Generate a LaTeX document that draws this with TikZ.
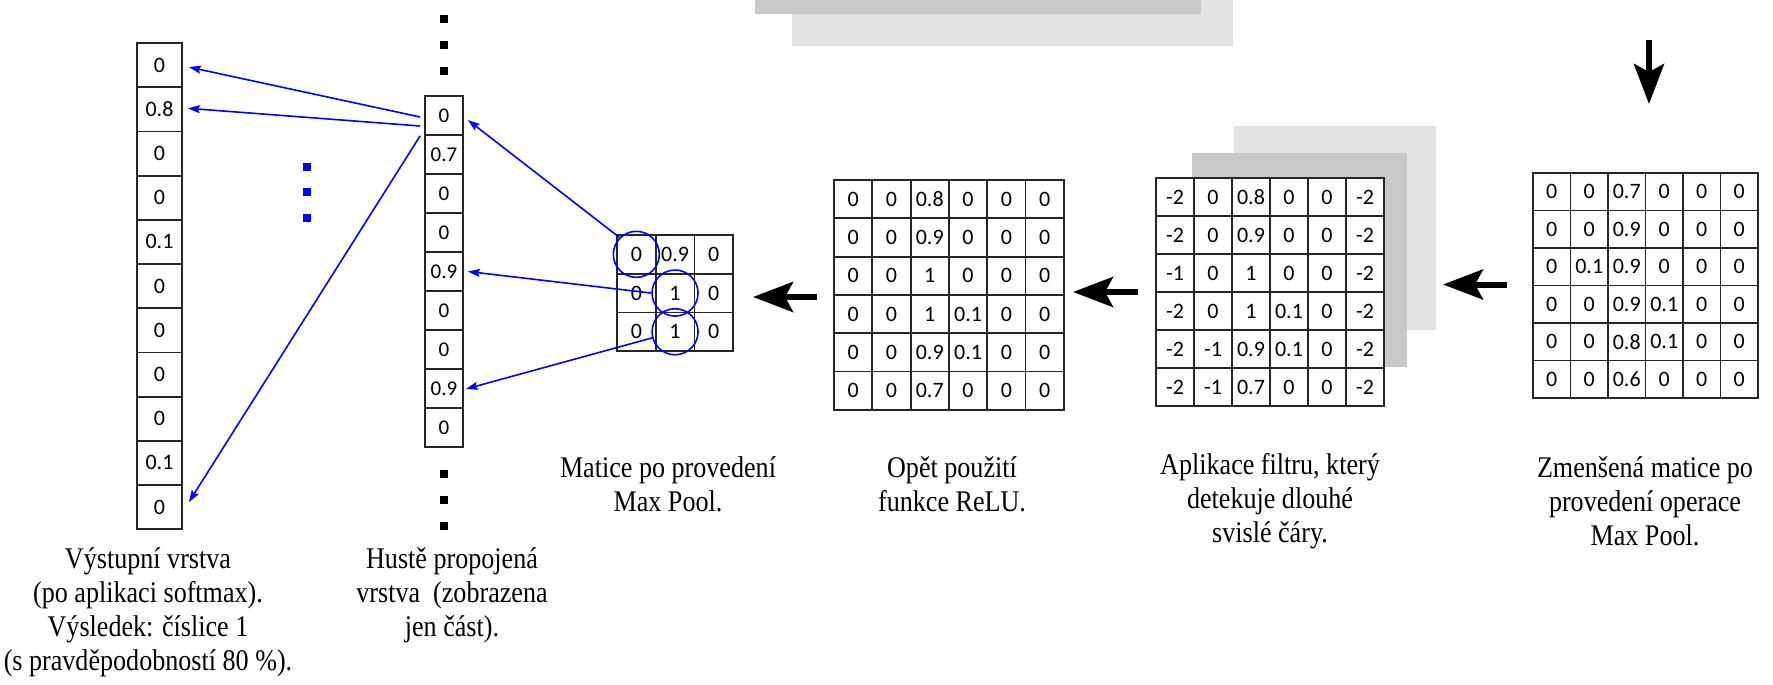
\documentclass[tikz,border=0pt]{standalone}
\usepackage{fontspec}
\setmainfont{Liberation Serif}
\newfontfamily\capfont[FakeStretch=0.87]{Liberation Serif}
\newfontfamily\cellfont{Carlito}
\usetikzlibrary{arrows.meta,calc}
\definecolor{darkgraybox}{HTML}{C9C9C9}
\definecolor{lightgraybox}{HTML}{E3E3E3}
\definecolor{pureblue}{RGB}{0,0,255}
\definecolor{gridline}{HTML}{262626}
\tikzset{
  cellbox/.style={draw=gridline, fill=white, line width=0.9pt, inner sep=0pt,
    font=\cellfont\fontsize{11}{13}\selectfont},
  outcell/.style={cellbox, minimum width=22.5pt, minimum height=22.1pt},
  densecell/.style={cellbox, minimum width=19pt, minimum height=19.5pt,
    font=\cellfont\fontsize{10.5}{12}\selectfont},
  mcell/.style={cellbox, minimum size=#1},
  caption/.style={font=\capfont\fontsize{15}{17}\selectfont, align=center, inner sep=0pt},
  bluearrow/.style={draw=pureblue, line width=0.8pt, -{Stealth[length=6pt,width=4pt,inset=1pt]}},
  bigarrow/.style={draw=black, line width=3pt, -{Stealth[length=20pt,width=15pt,inset=4pt]}},
  poolring/.style={circle, draw=pureblue, line width=0.8pt, minimum size=23pt, inner sep=0pt},
  blackdot/.style={fill=black, inner sep=0pt, minimum size=4pt},
  bluedot/.style={fill=pureblue, inner sep=0pt, minimum size=4pt},
}
\begin{document}
\begin{tikzpicture}[x=0.5pt,y=-0.5pt]
\useasboundingbox (0,0) rectangle (1773,685);

% gray background sheets (top)
\fill[lightgraybox] (792,0) rectangle (1233,46);
\fill[darkgraybox] (755,0) rectangle (1201,14);
% gray sheets behind the filter matrix
\fill[lightgraybox] (1234,126) rectangle (1436,330);
\fill[darkgraybox] (1192,153) rectangle (1407,367);

% output layer
\foreach \v [count=\i from 0] in {0,0.8,0,0,0.1,0,0,0,0,0.1,0}
  \node[outcell] (out\i) at (159.5,{43+(\i+0.5)*44.2}) {\v};

% dense layer
\foreach \v [count=\i from 0] in {0,0.7,0,0,0.9,0,0,0.9,0}
  \node[densecell] (dense\i) at (444,{96+(\i+0.5)*39}) {\v};

% dots
\node[blackdot] (dt1) at (444,19) {};
\node[blackdot] (dt2) at (444,45) {};
\node[blackdot] (dt3) at (444,71) {};
\node[blackdot] (db1) at (444,474) {};
\node[blackdot] (db2) at (444,500) {};
\node[blackdot] (db3) at (444,526) {};
\node[bluedot] (bd1) at (307,167) {};
\node[bluedot] (bd2) at (307,192) {};
\node[bluedot] (bd3) at (307,218) {};

% max pool matrix
\foreach \row [count=\r from 0] in {{0,0.9,0},{0,1,0},{0,1,0}}
  \foreach \v [count=\c from 0] in \row
    \node[mcell=19.35pt] (pool-\r-\c) at ({617+(\c+0.5)*38.7},{235+(\r+0.5)*38.7}) {\v};

% ReLU matrix
\foreach \row [count=\r from 0] in {{0,0,0.8,0,0,0},{0,0,0.9,0,0,0},{0,0,1,0,0,0},{0,0,1,0.1,0,0},{0,0,0.9,0.1,0,0},{0,0,0.7,0,0,0}}
  \foreach \v [count=\c from 0] in \row
    \node[mcell=19.15pt] (relu-\r-\c) at ({834+(\c+0.5)*38.3},{180+(\r+0.5)*38.3}) {\v};

% filter matrix
\foreach \row [count=\r from 0] in {{-2,0,0.8,0,0,-2},{-2,0,0.9,0,0,-2},{-1,0,1,0,0,-2},{-2,0,1,0.1,0,-2},{-2,-1,0.9,0.1,0,-2},{-2,-1,0.7,0,0,-2}}
  \foreach \v [count=\c from 0] in \row
    \node[mcell=19pt] (filt-\r-\c) at ({1156+(\c+0.5)*38},{178+(\r+0.5)*38}) {\v};

% reduced matrix
\foreach \row [count=\r from 0] in {{0,0,0.7,0,0,0},{0,0,0.9,0,0,0},{0,0.1,0.9,0,0,0},{0,0,0.9,0.1,0,0},{0,0,0.8,0.1,0,0},{0,0,0.6,0,0,0}}
  \foreach \v [count=\c from 0] in \row
    \node[mcell=18.75pt] (red-\r-\c) at ({1533+(\c+0.5)*37.5},{173+(\r+0.5)*37.5}) {\v};

% rings
\node[poolring] (ring1) at (pool-0-0) {};
\node[poolring] (ring2) at (pool-1-1) {};
\node[poolring] (ring3) at (pool-2-1) {};

% blue connectors
\draw[bluearrow] ($(dense0.west)+(-4,1.5)$) -- ($(out0.east)+(6,2)$);
\draw[bluearrow] ($(dense0.west)+(-4,10.5)$) -- ($(out1.east)+(5,-1)$);
\draw[bluearrow] ($(dense0.south west)+(-4,0)$) -- ($(out10.east)+(6,-5)$);
\draw[bluearrow] (ring1.135) -- ($(dense0.east)+(4,4.5)$);
\draw[bluearrow] (ring2.west) -- ($(dense4.east)+(4,0)$);
\draw[bluearrow] (ring3.195) -- ($(dense7.east)+(2,0.5)$);

% black arrows
\coordinate (k1tail) at (817,297);  \coordinate (k1tip) at (753,297);
\coordinate (k2tail) at (1138,292); \coordinate (k2tip) at (1073,292);
\coordinate (k3tail) at (1507,284.5); \coordinate (k3tip) at (1443,284.5);
\coordinate (k4tail) at (1649,40);  \coordinate (k4tip) at (1649,104);
\draw[bigarrow] (k1tail) -- (k1tip);
\draw[bigarrow] (k2tail) -- (k2tip);
\draw[bigarrow] (k3tail) -- (k3tip);
\draw[bigarrow] (k4tail) -- (k4tip);

% captions
\node[caption] (capout) at (148,612) {Výstupní vrstva\\(po aplikaci softmax).\\Výsledek: číslice 1\\(s pravděpodobností 80 \%).};
\node[caption] (capdense) at (452,595) {Hustě propojená\\vrstva\ \ (zobrazena\\jen část).};
\node[caption] (cappool) at (668,484) {Matice po provedení\\Max Pool.};
\node[caption] (caprelu) at (952,484) {Opět použití\\funkce ReLU.};
\node[caption] (capfilt) at (1270,501) {Aplikace filtru, který\\detekuje dlouhé\\svislé čáry.};
\node[caption] (capred) at (1645,501) {Zmenšená matice po\\provedení operace\\Max Pool.};
\end{tikzpicture}
\end{document}
